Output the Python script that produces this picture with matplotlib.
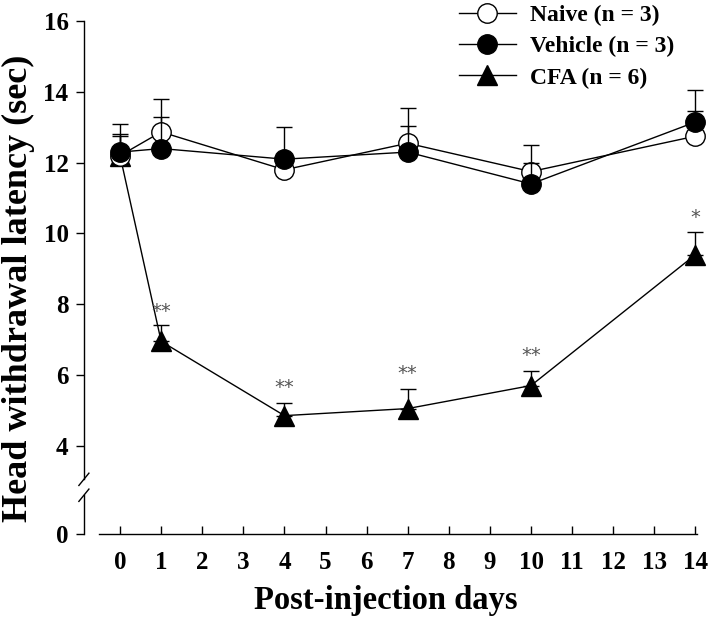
import numpy as np
import matplotlib
matplotlib.use('Agg')
import matplotlib.pyplot as plt
import matplotlib.transforms as mtransforms
from matplotlib.lines import Line2D

# data
days = [0, 1, 4, 7, 10, 14]
naive = [12.2, 12.87, 11.8, 12.55, 11.75, 12.75]
naive_err = [0.6, 0.93, 0.0, 1.0, 0.75, 0.7]
vehicle = [12.3, 12.4, 12.1, 12.3, 11.4, 13.15]
vehicle_err = [0.8, 0.9, 0.9, 0.75, 0.6, 0.9]
cfa = [12.2, 6.95, 4.85, 5.05, 5.7, 9.4]
cfa_err = [0.55, 0.45, 0.35, 0.55, 0.4, 0.65]
cfa_stars = ['', '**', '**', '**', '**', '*']
star_y = [0, 7.8, 5.65, 6.05, 6.55, 10.45]
labels = ['Naive (n = 3)', 'Vehicle (n = 3)', 'CFA (n = 6)']
yticks = [0, 4, 6, 8, 10, 12, 14, 16]

plt.rcParams['font.family'] = ['Liberation Serif', 'DejaVu Serif']
plt.rcParams['font.weight'] = 'bold'


def fwd(y):
    y = np.asarray(y, dtype=float)
    return np.where(y >= 4, y, 1.5 + y * 2.5 / 4)


def inv(t):
    t = np.asarray(t, dtype=float)
    return np.where(t >= 4, t, (t - 1.5) * 4 / 2.5)


fig = plt.figure(figsize=(7.11, 6.24), dpi=100)
ax = fig.add_axes([0.118, 0.144, 0.882, 0.822])
ax.set_yscale('function', functions=(fwd, inv))
ax.set_ylim(0, 16)
ax.set_xlim(-0.88, 14.38)

lw = 1.0
ms = 14
common = dict(color='black', lw=lw, capsize=6, elinewidth=lw, capthick=lw)

zero = np.zeros(len(days))
ax.errorbar(days, cfa, yerr=[zero, cfa_err], marker='^', ms=ms, mfc='black',
            mec='black', zorder=2, **common)
ax.errorbar(days, naive, yerr=[zero, naive_err], marker='o', ms=ms, mfc='white',
            mec='black', mew=1.0, zorder=3, **common)
ax.errorbar(days, vehicle, yerr=[zero, vehicle_err], marker='o', ms=ms, mfc='black',
            mec='black', zorder=4, **common)

for d, s, yy in zip(days, cfa_stars, star_y):
    if s:
        ax.text(d, yy, s, ha='center', va='center', fontsize=14,
                fontweight='normal', color='#555555', family='DejaVu Sans')

# axes styling
for side in ['top', 'right']:
    ax.spines[side].set_visible(False)
ax.spines['left'].set_linewidth(lw)
ax.spines['bottom'].set_linewidth(lw)
ax.spines['bottom'].set_bounds(-0.51, 14.05)

break_lo, break_hi = 1.76, 2.48
ax.spines['left'].set_bounds(break_hi, 16)
trans = mtransforms.blended_transform_factory(ax.transAxes, ax.transData)
ax.plot([0, 0], [0, break_lo], color='black', lw=lw, transform=trans, clip_on=False)
# break marks
for b in [break_lo, break_hi]:
    t = float(fwd(b))
    yy = (t - 1.5) / 14.5
    ax.plot([-0.008, 0.008], [yy - 0.012, yy + 0.012], color='black', lw=lw,
            transform=ax.transAxes, clip_on=False)

ax.set_xticks(range(0, 15))
ax.set_yticks(yticks)
ax.set_yticklabels([str(v) for v in yticks])
ax.tick_params(axis='x', direction='in', length=6, width=lw, labelsize=18, pad=12)
ax.tick_params(axis='y', direction='out', length=6, width=lw, labelsize=18, pad=5)
for lab in ax.get_xticklabels() + ax.get_yticklabels():
    lab.set_fontweight('bold')

ax.set_xlabel('Post-injection days', fontsize=23.5, fontweight='bold')
ax.xaxis.set_label_coords(0.482, -0.1)
ax.set_ylabel('Head withdrawal latency (sec)', fontsize=26, fontweight='bold')
ax.yaxis.set_label_coords(-0.078, 0.48)

handles = [
    Line2D([], [], color='black', lw=lw, marker='o', ms=ms, mfc='white', mec='black'),
    Line2D([], [], color='black', lw=lw, marker='o', ms=ms, mfc='black', mec='black'),
    Line2D([], [], color='black', lw=lw, marker='^', ms=ms, mfc='black', mec='black'),
]
fig.legend(handles, labels, loc='upper left', bbox_to_anchor=(0.629, 1.012),
           frameon=False, handlelength=2.4, handletextpad=0.6, labelspacing=0.42,
           borderpad=0, prop={'weight': 'bold', 'size': 17})

fig.savefig('out.png', dpi=100)
